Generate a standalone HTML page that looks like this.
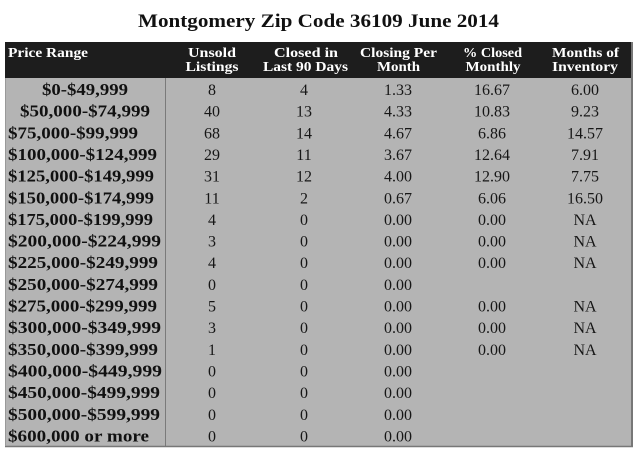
<!DOCTYPE html>
<html><head><meta charset="utf-8"><style>
html,body{margin:0;padding:0;background:#fff;}
svg{display:block;}
</style></head><body>
<svg width="640" height="452" viewBox="0 0 640 452" xmlns="http://www.w3.org/2000/svg">
<rect x="0" y="0" width="640" height="452" fill="#ffffff"/>
<text x="138" y="27" font-family="Liberation Serif, serif" font-weight="bold" font-size="19" fill="#111" textLength="361" lengthAdjust="spacingAndGlyphs">Montgomery Zip Code 36109 June 2014</text>
<rect x="5" y="42" width="628" height="36" fill="#1d1d1d"/>
<rect x="5" y="78" width="628" height="368" fill="#b4b4b4"/>
<line x1="165.5" y1="78" x2="165.5" y2="446" stroke="#7a7a7a" stroke-width="1"/>
<line x1="632" y1="42" x2="632" y2="447" stroke="#777" stroke-width="2"/>
<line x1="5" y1="446.5" x2="633" y2="446.5" stroke="#777" stroke-width="1.5"/>
<line x1="5.5" y1="78" x2="5.5" y2="446" stroke="#999" stroke-width="1"/>
<g font-family="Liberation Serif, serif" font-weight="bold" font-size="14" fill="#fff">
<text x="8" y="57" textLength="80" lengthAdjust="spacingAndGlyphs">Price Range</text>
<text x="212" y="57" text-anchor="middle" textLength="48" lengthAdjust="spacingAndGlyphs">Unsold</text>
<text x="212" y="71" text-anchor="middle" textLength="53" lengthAdjust="spacingAndGlyphs">Listings</text>
<text x="306" y="57" text-anchor="middle" textLength="64" lengthAdjust="spacingAndGlyphs">Closed in</text>
<text x="305.5" y="71" text-anchor="middle" textLength="85" lengthAdjust="spacingAndGlyphs">Last 90 Days</text>
<text x="398.5" y="57" text-anchor="middle" textLength="77" lengthAdjust="spacingAndGlyphs">Closing Per</text>
<text x="398.5" y="71" text-anchor="middle" textLength="43" lengthAdjust="spacingAndGlyphs">Month</text>
<text x="492.5" y="57" text-anchor="middle" textLength="59" lengthAdjust="spacingAndGlyphs">% Closed</text>
<text x="493" y="71" text-anchor="middle" textLength="55" lengthAdjust="spacingAndGlyphs">Monthly</text>
<text x="585.5" y="57" text-anchor="middle" textLength="67" lengthAdjust="spacingAndGlyphs">Months of</text>
<text x="585" y="71" text-anchor="middle" textLength="66" lengthAdjust="spacingAndGlyphs">Inventory</text>
</g>
<g font-family="Liberation Serif, serif" font-weight="bold" font-size="17" fill="#111">
<text x="42" y="95" textLength="86" lengthAdjust="spacingAndGlyphs">$0-$49,999</text>
<text x="20" y="116.6" textLength="130" lengthAdjust="spacingAndGlyphs">$50,000-$74,999</text>
<text x="8" y="138.3" textLength="130" lengthAdjust="spacingAndGlyphs">$75,000-$99,999</text>
<text x="8" y="160" textLength="149" lengthAdjust="spacingAndGlyphs">$100,000-$124,999</text>
<text x="8" y="181.6" textLength="146" lengthAdjust="spacingAndGlyphs">$125,000-$149,999</text>
<text x="8" y="203.3" textLength="146" lengthAdjust="spacingAndGlyphs">$150,000-$174,999</text>
<text x="8" y="224.9" textLength="145" lengthAdjust="spacingAndGlyphs">$175,000-$199,999</text>
<text x="8" y="246.6" textLength="153" lengthAdjust="spacingAndGlyphs">$200,000-$224,999</text>
<text x="8" y="268.2" textLength="150" lengthAdjust="spacingAndGlyphs">$225,000-$249,999</text>
<text x="8" y="289.9" textLength="150" lengthAdjust="spacingAndGlyphs">$250,000-$274,999</text>
<text x="8" y="311.5" textLength="149" lengthAdjust="spacingAndGlyphs">$275,000-$299,999</text>
<text x="8" y="333.2" textLength="153" lengthAdjust="spacingAndGlyphs">$300,000-$349,999</text>
<text x="8" y="354.8" textLength="150" lengthAdjust="spacingAndGlyphs">$350,000-$399,999</text>
<text x="8" y="376.5" textLength="154" lengthAdjust="spacingAndGlyphs">$400,000-$449,999</text>
<text x="8" y="398.1" textLength="152" lengthAdjust="spacingAndGlyphs">$450,000-$499,999</text>
<text x="8" y="419.8" textLength="152" lengthAdjust="spacingAndGlyphs">$500,000-$599,999</text>
<text x="8" y="441.4" textLength="141" lengthAdjust="spacingAndGlyphs">$600,000 or more</text>
</g>
<g font-family="Liberation Serif, serif" font-size="16" fill="#161616" text-anchor="middle">
<text x="212" y="95">8</text>
<text x="212" y="116.6">40</text>
<text x="212" y="138.3">68</text>
<text x="212" y="160">29</text>
<text x="212" y="181.6">31</text>
<text x="212" y="203.3">11</text>
<text x="212" y="224.9">4</text>
<text x="212" y="246.6">3</text>
<text x="212" y="268.2">4</text>
<text x="212" y="289.9">0</text>
<text x="212" y="311.5">5</text>
<text x="212" y="333.2">3</text>
<text x="212" y="354.8">1</text>
<text x="212" y="376.5">0</text>
<text x="212" y="398.1">0</text>
<text x="212" y="419.8">0</text>
<text x="212" y="441.4">0</text>
<text x="304" y="95">4</text>
<text x="304" y="116.6">13</text>
<text x="304" y="138.3">14</text>
<text x="304" y="160">11</text>
<text x="304" y="181.6">12</text>
<text x="304" y="203.3">2</text>
<text x="304" y="224.9">0</text>
<text x="304" y="246.6">0</text>
<text x="304" y="268.2">0</text>
<text x="304" y="289.9">0</text>
<text x="304" y="311.5">0</text>
<text x="304" y="333.2">0</text>
<text x="304" y="354.8">0</text>
<text x="304" y="376.5">0</text>
<text x="304" y="398.1">0</text>
<text x="304" y="419.8">0</text>
<text x="304" y="441.4">0</text>
<text x="398" y="95">1.33</text>
<text x="398" y="116.6">4.33</text>
<text x="398" y="138.3">4.67</text>
<text x="398" y="160">3.67</text>
<text x="398" y="181.6">4.00</text>
<text x="398" y="203.3">0.67</text>
<text x="398" y="224.9">0.00</text>
<text x="398" y="246.6">0.00</text>
<text x="398" y="268.2">0.00</text>
<text x="398" y="289.9">0.00</text>
<text x="398" y="311.5">0.00</text>
<text x="398" y="333.2">0.00</text>
<text x="398" y="354.8">0.00</text>
<text x="398" y="376.5">0.00</text>
<text x="398" y="398.1">0.00</text>
<text x="398" y="419.8">0.00</text>
<text x="398" y="441.4">0.00</text>
<text x="492" y="95">16.67</text>
<text x="492" y="116.6">10.83</text>
<text x="492" y="138.3">6.86</text>
<text x="492" y="160">12.64</text>
<text x="492" y="181.6">12.90</text>
<text x="492" y="203.3">6.06</text>
<text x="492" y="224.9">0.00</text>
<text x="492" y="246.6">0.00</text>
<text x="492" y="268.2">0.00</text>
<text x="492" y="311.5">0.00</text>
<text x="492" y="333.2">0.00</text>
<text x="492" y="354.8">0.00</text>
<text x="585" y="95">6.00</text>
<text x="585" y="116.6">9.23</text>
<text x="585" y="138.3">14.57</text>
<text x="585" y="160">7.91</text>
<text x="585" y="181.6">7.75</text>
<text x="585" y="203.3">16.50</text>
<text x="585" y="224.9">NA</text>
<text x="585" y="246.6">NA</text>
<text x="585" y="268.2">NA</text>
<text x="585" y="311.5">NA</text>
<text x="585" y="333.2">NA</text>
<text x="585" y="354.8">NA</text>
</g>
</svg>
</body></html>
